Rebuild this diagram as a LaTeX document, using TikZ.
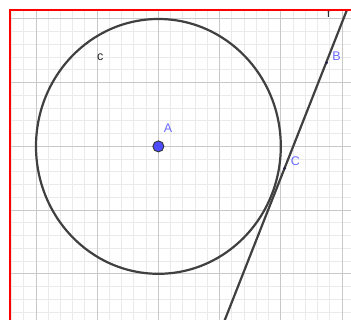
\documentclass[tikz,border=0pt]{standalone}
\usepackage{fontspec}
\setmainfont{Liberation Sans}
\definecolor{majorgrid}{RGB}{200,200,200}
\definecolor{minorgrid}{RGB}{234,234,234}
\definecolor{curvecol}{RGB}{64,64,64}
\definecolor{ptfill}{RGB}{77,77,255}
\definecolor{lblcol}{RGB}{105,105,255}
\definecolor{smallpt}{RGB}{30,30,70}
\definecolor{framered}{RGB}{255,0,0}
\tikzset{
  minorline/.style={draw=minorgrid, line width=1pt},
  majorline/.style={draw=majorgrid, line width=1pt},
  curve/.style={draw=curvecol, line width=2.2pt},
  bigpoint/.style={circle, fill=ptfill, draw=black!80, line width=0.9pt, minimum size=11pt, inner sep=0pt},
  smallpoint/.style={circle, fill=smallpt, minimum size=3pt, inner sep=0pt},
  ptlabel/.style={text=lblcol, font=\fontsize{12.5}{14}\selectfont, inner sep=0pt},
  objlabel/.style={text=black!85, font=\fontsize{12.5}{14}\selectfont, inner sep=0pt},
  frameline/.style={draw=framered, line width=2pt}
}
\begin{document}
\begin{tikzpicture}[x=1pt,y=-1pt]
\useasboundingbox (0,0) rectangle (351,320);
\fill[white] (0,0) rectangle (351,320);
\begin{scope}
  \clip (10,10) rectangle (351,320);
  % minor grid
  \foreach \i in {0,...,27} {\draw[minorline] ({11.52+12.24*\i},0) -- ({11.52+12.24*\i},320);}
  \foreach \i in {1,...,25} {\draw[minorline] (0,{6.26+12.74*\i}) -- (351,{6.26+12.74*\i});}
  % major grid
  \foreach \i in {0,...,5} {\draw[majorline] ({36+61.2*\i},0) -- ({36+61.2*\i},320);}
  \foreach \i in {0,...,4} {\draw[majorline] (0,{19+63.7*\i}) -- (351,{19+63.7*\i});}
  % circle c
  \coordinate (center) at (158.4,146.4);
  \draw[curve] (center) ellipse [x radius=122.4, y radius=127.4];
  % line f
  \coordinate (ftop) at (347.7,8);
  \coordinate (fbot) at (224,322);
  \draw[curve] (fbot) -- (ftop);
  % label of line f (clipped by frame)
  \node[objlabel, anchor=base] (flabel) at (328.7,18) {f};
  % points
  \node[smallpoint] (B) at (326.6,62.7) {};
  \node[smallpoint] (C) at (284.6,168.3) {};
  \node[bigpoint] (A) at (center) {};
  % labels
  \node[ptlabel] (Alabel) at (168,128.3) {A};
  \node[ptlabel] (Blabel) at (336.5,56) {B};
  \node[ptlabel] (Clabel) at (295.5,161) {C};
  \node[objlabel] (clabel) at (100.3,57) {c};
\end{scope}
% red frame
\draw[frameline] (10,321) -- (10,10) -- (352,10);
\end{tikzpicture}
\end{document}
